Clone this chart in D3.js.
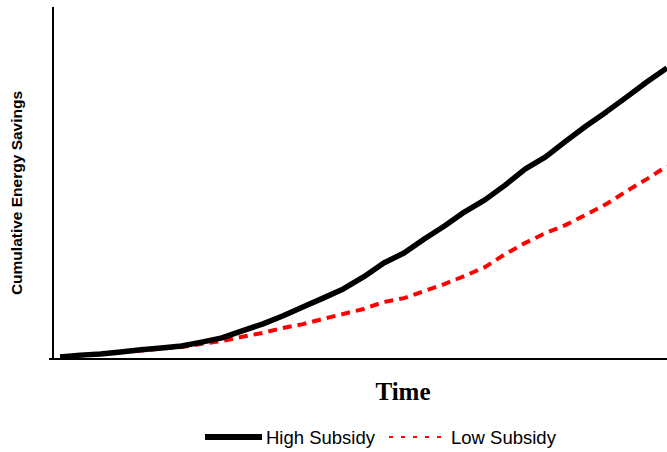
<!DOCTYPE html>
<html><head><meta charset="utf-8">
<script src="https://cdn.jsdelivr.net/npm/d3@7"></script>
<style>html,body{margin:0;padding:0;background:#fff;}svg{display:block;}</style>
</head><body>
<script>
const years = d3.range(0, 31);
const highSubsidy = [0.6,1.1,1.4,2.0,2.6,3.1,3.7,4.8,6.0,8.0,9.9,12.2,14.8,17.3,19.9,23.3,27.3,30.1,34.1,37.8,41.8,45.2,49.4,54.0,57.4,61.9,66.2,70.2,74.4,78.7,82.7];
const lowSubsidy = [0.6,1.0,1.4,2.0,2.4,3.0,3.4,4.3,5.1,6.3,7.4,8.8,9.9,11.4,12.8,14.2,16.2,17.3,19.3,21.3,23.6,26.1,29.8,33.0,35.8,38.1,41.0,44.0,47.7,51.1,54.8];
const seriesNames = ["High Subsidy", "Low Subsidy"];

const W = 667, H = 452;
const svg = d3.select("body").append("svg").attr("width", W).attr("height", H);

const x = d3.scaleLinear().domain([-0.35, 30]).range([53, 667]);
const y = d3.scaleLinear().domain([0, 100]).range([359, 7]);

// axes
svg.append("line").attr("x1", 53).attr("x2", 53).attr("y1", 7).attr("y2", 359)
  .attr("stroke", "#000").attr("stroke-width", 2);
svg.append("line").attr("x1", 49).attr("x2", 667).attr("y1", 359).attr("y2", 359)
  .attr("stroke", "#000").attr("stroke-width", 2);

const line = d3.line().x((d, i) => x(years[i])).y(d => y(d));

svg.append("path").datum(lowSubsidy).attr("d", line)
  .attr("fill", "none").attr("stroke", "#ff0000").attr("stroke-width", 4)
  .attr("stroke-dasharray", "9,6");
svg.append("path").datum(highSubsidy).attr("d", line)
  .attr("fill", "none").attr("stroke", "#000").attr("stroke-width", 5.5)
  .attr("stroke-linejoin", "round");

// axis titles
svg.append("text").attr("x", 403).attr("y", 400).attr("text-anchor", "middle")
  .attr("font-family", "'Liberation Serif', 'Times New Roman', serif")
  .attr("font-weight", "bold").attr("font-size", 25).text("Time");
svg.append("text").attr("transform", "translate(22,193) rotate(-90)")
  .attr("text-anchor", "middle")
  .attr("font-family", "'Liberation Sans', Arial, sans-serif")
  .attr("font-weight", "bold").attr("font-size", 15.5).text("Cumulative Energy Savings");

// legend
const lg = svg.append("g").attr("font-family", "'Liberation Sans', Arial, sans-serif").attr("font-size", 18.5);
lg.append("line").attr("x1", 205).attr("x2", 262).attr("y1", 437).attr("y2", 437)
  .attr("stroke", "#000").attr("stroke-width", 6);
lg.append("text").attr("x", 266).attr("y", 444).attr("fill", "#000").text(seriesNames[0]);
lg.append("line").attr("x1", 389).attr("x2", 448).attr("y1", 437).attr("y2", 437)
  .attr("stroke", "#ff0000").attr("stroke-width", 2).attr("stroke-dasharray", "4,8");
lg.append("text").attr("x", 451).attr("y", 444).attr("fill", "#000").text(seriesNames[1]);
</script>
</body></html>
